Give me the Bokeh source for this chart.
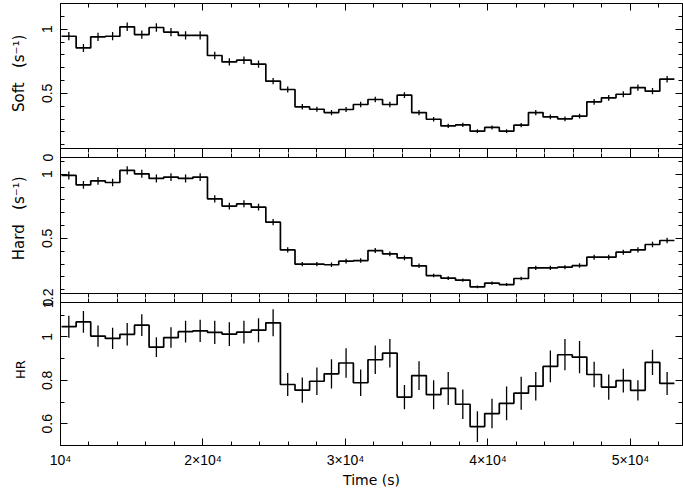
from bokeh.plotting import figure
from bokeh.models import Range1d, LinearAxis, FixedTicker, ColumnDataSource
from bokeh.layouts import column
from bokeh.embed import file_html
from bokeh.resources import INLINE

# ---- data -------------------------------------------------------------
bin_start = [10073, 11097, 12121, 13145, 14169, 15193, 16217, 17241, 18265, 19289,
             20313, 21337, 22361, 23385, 24409, 25433, 26457, 27481, 28505, 29529,
             30553, 31577, 32601, 33625, 34649, 35673, 36697, 37721, 38745, 39769,
             40793, 41817, 42841, 43865, 44889, 45913, 46937, 47961, 48985, 50009,
             51033, 52057]
bin_width = 1024

soft = [0.945, 0.854, 0.940, 0.945, 1.018, 0.958, 1.013, 0.977, 0.951, 0.951,
        0.795, 0.745, 0.758, 0.727, 0.595, 0.530, 0.395, 0.376, 0.350, 0.374,
        0.413, 0.452, 0.413, 0.486, 0.350, 0.298, 0.246, 0.254, 0.205, 0.234,
        0.205, 0.252, 0.350, 0.317, 0.301, 0.322, 0.434, 0.465, 0.493, 0.545,
        0.517, 0.610]
soft_err = [0.032, 0.031, 0.032, 0.032, 0.033, 0.032, 0.033, 0.032, 0.032, 0.032,
            0.029, 0.028, 0.029, 0.028, 0.025, 0.024, 0.021, 0.020, 0.020, 0.020,
            0.021, 0.022, 0.021, 0.023, 0.020, 0.018, 0.017, 0.017, 0.015, 0.016,
            0.015, 0.017, 0.020, 0.019, 0.018, 0.019, 0.022, 0.022, 0.023, 0.024,
            0.024, 0.026]

hard = [0.990, 0.917, 0.948, 0.935, 1.029, 1.003, 0.967, 0.977, 0.967, 0.977,
        0.808, 0.751, 0.769, 0.743, 0.626, 0.410, 0.299, 0.299, 0.294, 0.322,
        0.327, 0.405, 0.379, 0.348, 0.286, 0.210, 0.190, 0.174, 0.122, 0.151,
        0.140, 0.187, 0.270, 0.270, 0.275, 0.288, 0.353, 0.353, 0.392, 0.410,
        0.452, 0.483]
hard_err = [0.031, 0.030, 0.030, 0.030, 0.032, 0.031, 0.031, 0.031, 0.031, 0.031,
            0.028, 0.027, 0.027, 0.027, 0.025, 0.020, 0.017, 0.017, 0.017, 0.018,
            0.018, 0.020, 0.019, 0.018, 0.017, 0.014, 0.014, 0.013, 0.011, 0.012,
            0.012, 0.014, 0.016, 0.016, 0.016, 0.017, 0.019, 0.019, 0.020, 0.020,
            0.021, 0.022]

hr = [1.047, 1.069, 1.004, 0.993, 1.012, 1.054, 0.953, 0.997, 1.024, 1.028,
      1.021, 1.013, 1.022, 1.031, 1.065, 0.781, 0.755, 0.796, 0.830, 0.880,
      0.789, 0.895, 0.925, 0.723, 0.822, 0.734, 0.763, 0.690, 0.587, 0.647,
      0.694, 0.741, 0.773, 0.864, 0.918, 0.907, 0.827, 0.769, 0.799, 0.754,
      0.883, 0.786]
hr_err = [0.051, 0.050, 0.049, 0.049, 0.052, 0.050, 0.046, 0.047, 0.050, 0.051,
          0.053, 0.055, 0.052, 0.055, 0.062, 0.053, 0.058, 0.063, 0.067, 0.068,
          0.061, 0.066, 0.066, 0.056, 0.066, 0.067, 0.076, 0.068, 0.071, 0.068,
          0.078, 0.076, 0.066, 0.073, 0.072, 0.074, 0.059, 0.058, 0.055, 0.047,
          0.058, 0.053]

x_major = [10000, 20000, 30000, 40000, 50000]
x_minor = [10000, 12000, 14000, 16000, 18000, 20000, 22000, 24000, 26000, 28000,
           30000, 32000, 34000, 36000, 38000, 40000, 42000, 44000, 46000, 48000,
           50000, 52000]
x_labels = {10000: "10\u2074", 20000: "2\u00d710\u2074", 30000: "3\u00d710\u2074",
            40000: "4\u00d710\u2074", 50000: "5\u00d710\u2074"}

rate_major = [0.0, 0.5, 1.0]
rate_minor = [0.1, 0.2, 0.3, 0.4, 0.6, 0.7, 0.8, 0.9, 1.1, 1.2]
rate_labels = {0.0: "0", 0.5: "0.5", 1.0: "1"}

hr_major = [0.6, 0.8, 1.0, 1.2]
hr_minor = [0.5, 0.7, 0.9, 1.1]
hr_labels = {0.6: "0.6", 0.8: "0.8", 1.0: "1", 1.2: "1.2"}

NB = "\u00a0"
soft_title = NB * 3 + "Soft" + NB * 3 + "(s\u207b\u00b9)"
hard_title = NB * 3 + "Hard" + NB * 3 + "(s\u207b\u00b9)"

FONT = "Liberation Sans"
LABEL_FONT = "DejaVu Sans"


def style_axis(ax, ticker, show_labels, overrides=None, vertical=False):
    ax.ticker = ticker
    ax.major_tick_in = 7
    ax.major_tick_out = 0
    ax.minor_tick_in = 4
    ax.minor_tick_out = 0
    ax.axis_line_color = "black"
    ax.axis_line_width = 1
    ax.major_tick_line_color = "black"
    ax.minor_tick_line_color = "black"
    if show_labels:
        ax.major_label_overrides = overrides
        ax.major_label_text_font = FONT
        ax.major_label_text_font_size = "14px"
        ax.major_label_text_color = "black"
        if vertical:
            ax.major_label_orientation = "vertical"
    else:
        ax.major_label_text_color = None
        ax.major_label_text_font_size = "0px"
        ax.major_label_standoff = 0


def panel(values, errs, yr, ymaj, ymin, ylabels, ylabel, ylabel_size,
          top, bottom, height, show_x, margin):
    p = figure(width=683, height=height,
               x_range=Range1d(10000, 53650), y_range=Range1d(*yr),
               output_backend="svg", toolbar_location=None,
               x_axis_location=None, y_axis_location=None,
               min_border_left=60, min_border_right=1,
               min_border_top=top, min_border_bottom=bottom,
               background_fill_color=None, border_fill_color=None,
               outline_line_color=None, margin=margin)
    p.grid.visible = False

    left = LinearAxis()
    style_axis(left, FixedTicker(ticks=ymaj, minor_ticks=ymin), True, ylabels, vertical=True)
    left.major_label_standoff = 8
    left.axis_label = ylabel
    left.axis_label_text_font = LABEL_FONT
    left.axis_label_text_font_size = ylabel_size
    left.axis_label_text_font_style = "normal"
    left.axis_label_text_color = "black"
    left.axis_label_standoff = 12
    p.add_layout(left, "left")

    right = LinearAxis()
    style_axis(right, FixedTicker(ticks=ymaj, minor_ticks=ymin), False)
    p.add_layout(right, "right")

    above = LinearAxis()
    style_axis(above, FixedTicker(ticks=x_major, minor_ticks=x_minor), False)
    p.add_layout(above, "above")

    below = LinearAxis()
    xt = FixedTicker(ticks=x_major, minor_ticks=x_minor)
    if show_x:
        style_axis(below, xt, True, x_labels)
        below.major_label_standoff = 6
        below.axis_label = "Time (s)"
        below.axis_label_text_font = LABEL_FONT
        below.axis_label_text_font_size = "14px"
        below.axis_label_text_font_style = "normal"
        below.axis_label_text_color = "black"
        below.axis_label_standoff = 1
    else:
        style_axis(below, xt, False)
    p.add_layout(below, "below")

    edges = bin_start + [bin_start[-1] + bin_width]
    step_src = ColumnDataSource(dict(x=edges, y=values + [values[-1]]))
    p.step("x", "y", source=step_src, mode="after", line_color="black", line_width=1.7)

    centers = [s + bin_width / 2 for s in bin_start]
    err_src = ColumnDataSource(dict(
        x=centers,
        lo=[v - e for v, e in zip(values, errs)],
        hi=[v + e for v, e in zip(values, errs)]))
    p.segment(x0="x", y0="lo", x1="x", y1="hi", source=err_src,
              line_color="black", line_width=1.3)
    return p


p1 = panel(soft, soft_err, (0.0, 1.2), rate_major, rate_minor, rate_labels,
           soft_title, "15px", 3, 5, 162, False, 0)
p2 = panel(hard, hard_err, (0.0, 1.2), rate_major, rate_minor, rate_labels,
           hard_title, "15px", 5, 5, 164, False, (-19, 0, 0, 0))
p3 = panel(hr, hr_err, (0.5, 1.2), hr_major, hr_minor, hr_labels,
           "HR", "13px", 5, 43, 202, True, (-19, 0, 0, 0))

layout = column(p1, p2, p3, spacing=0)
open("out.html", "w").write(file_html(layout, INLINE))
